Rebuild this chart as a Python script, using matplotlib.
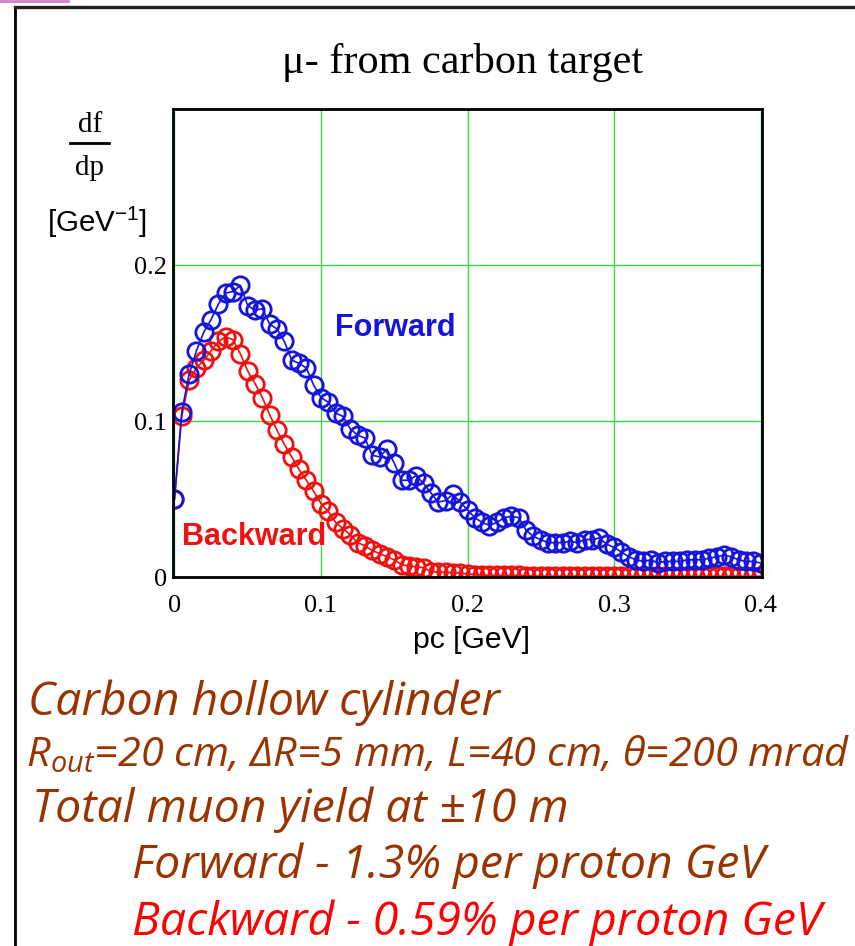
import matplotlib
matplotlib.use("Agg")
import matplotlib.pyplot as plt
from matplotlib.lines import Line2D
import numpy as np

plt.rcParams["mathtext.fontset"] = "custom"
plt.rcParams["mathtext.rm"] = "Liberation Sans"
plt.rcParams["mathtext.it"] = "Open Sans:italic"

# momentum grid [GeV]
p_gev = np.linspace(0.0, 0.4, 81)

# dF/dp for forward-going muons [1/GeV]
forward = [
    0.050, 0.106, 0.130, 0.145, 0.157, 0.165, 0.175, 0.182, 0.183, 0.187,
    0.174, 0.171, 0.172, 0.162, 0.159, 0.151, 0.139, 0.137, 0.134, 0.123,
    0.115, 0.112, 0.105, 0.103, 0.095, 0.091, 0.089, 0.078, 0.077, 0.082,
    0.073, 0.062, 0.062, 0.065, 0.060, 0.054, 0.048, 0.049, 0.053, 0.048,
    0.043, 0.038, 0.035, 0.033, 0.035, 0.038, 0.039, 0.038, 0.030, 0.026,
    0.024, 0.022, 0.022, 0.022, 0.023, 0.022, 0.024, 0.024, 0.025, 0.021,
    0.019, 0.016, 0.013, 0.011, 0.010, 0.011, 0.009, 0.010, 0.010, 0.010,
    0.011, 0.011, 0.011, 0.012, 0.013, 0.014, 0.013, 0.011, 0.010, 0.010,
    0.009,
]

# dF/dp for backward-going muons [1/GeV]
backward = [
    0.050, 0.103, 0.126, 0.134, 0.139, 0.145, 0.151, 0.154, 0.152, 0.143,
    0.132, 0.124, 0.115, 0.104, 0.094, 0.085, 0.077, 0.069, 0.062, 0.055,
    0.047, 0.042, 0.035, 0.031, 0.027, 0.022, 0.020, 0.017, 0.015, 0.013,
    0.011, 0.008, 0.007, 0.0065, 0.006, 0.0035, 0.003, 0.003, 0.0028, 0.0025,
    0.002, 0.0015, 0.0012, 0.001, 0.001, 0.001, 0.001, 0.001, 0.0008, 0.0006,
    0.0005, 0.0005, 0.0005, 0.0005, 0.0005, 0.0005, 0.0005, 0.0005, 0.0005, 0.0005,
    0.0005, 0.0005, 0.0005, 0.0005, 0.0005, 0.0005, 0.0005, 0.0005, 0.0005, 0.0005,
    0.0005, 0.0005, 0.0005, 0.0005, 0.0005, 0.0005, 0.0005, 0.0005, 0.0005, 0.0005,
    0.0005,
]

x_ticks = [0.0, 0.1, 0.2, 0.3, 0.4]
x_tick_labels = ["0", "0.1", "0.2", "0.3", "0.4"]
y_ticks = [0.0, 0.1, 0.2]
y_tick_labels = ["0", "0.1", "0.2"]

W, H = 855, 946
fig = plt.figure(figsize=(W / 100, H / 100), dpi=100)
fig.patch.set_facecolor("white")


def fx(px):
    return px / W


def fy(py):
    return 1 - py / H


renderer = fig.canvas.get_renderer()


def text_width(txt):
    return txt.get_window_extent(renderer).width


def fit_width(txt, target_px):
    for _ in range(3):
        txt.set_fontsize(txt.get_fontsize() * target_px / text_width(txt))
    return txt


# slide frame
fig.add_artist(Line2D([fx(15), fx(15)], [0, fy(7)], color="black", lw=2.0,
                      transform=fig.transFigure))
fig.add_artist(Line2D([fx(15), 1], [fy(7), fy(7)], color="#222222", lw=2.4,
                      transform=fig.transFigure))
fig.add_artist(Line2D([0, fx(68)], [fy(1), fy(1)], color="#d77fc0", lw=2.0,
                      transform=fig.transFigure))

ax = fig.add_axes([fx(173), fy(577), (762 - 173) / W, (577 - 109) / H])
ax.set_xlim(-0.001, 0.401)
ax.set_ylim(0.0, 0.3)

blue = "#1414dc"
red = "#f01010"
ax.plot(p_gev, backward, "-", color=red, lw=1.2, marker="o", ms=12.5,
        mfc="none", mec=red, mew=2.0, zorder=3)
ax.plot(p_gev, forward, "-", color=blue, lw=1.2, marker="o", ms=12.5,
        mfc="none", mec=blue, mew=2.0, zorder=4)

ax.grid(True, color="#44d444", lw=1.0)
ax.set_axisbelow(True)
for s in ax.spines.values():
    s.set_linewidth(2.0)
    s.set_color("black")
    s.set_zorder(5)

ax.set_xticks(x_ticks)
ax.set_xticklabels(x_tick_labels)
ax.set_yticks(y_ticks)
ax.set_yticklabels(y_tick_labels)
ax.tick_params(length=0, labelsize=19)
ax.tick_params(axis="x", pad=13)
ax.tick_params(axis="y", pad=4)
for lab in ax.get_xticklabels() + ax.get_yticklabels():
    lab.set_fontfamily("Liberation Serif")

ax.text(0.1096, 0.1597, "Forward", color=blue, fontsize=22, fontweight="bold",
        family="Liberation Sans", va="center", ha="left", zorder=6)
ax.text(0.0052, 0.0256, "Backward", color=red, fontsize=22, fontweight="bold",
        family="Liberation Sans", va="center", ha="left", zorder=6)

# title and axis labels
t = fig.text(fx(462), fy(73), "\u03bc- from carbon target", family="Liberation Serif",
             fontsize=28, ha="center", va="baseline")
fit_width(t, 360)

fig.text(fx(90), fy(132), "df", family="Liberation Serif", fontsize=21,
         ha="center", va="baseline")
fig.add_artist(Line2D([fx(70), fx(109)], [fy(143), fy(143)], color="black", lw=2.0,
                      transform=fig.transFigure))
fig.text(fx(90), fy(175), "dp", family="Liberation Serif", fontsize=21,
         ha="center", va="baseline")

t = fig.text(fx(47), fy(232), r"[GeV$^{-1}$]", family="Liberation Sans", fontsize=21,
             ha="left", va="baseline")
fit_width(t, 100)

t = fig.text(fx(471), fy(648), "pc [GeV]", family="Liberation Sans", fontsize=21,
             ha="center", va="baseline")
fit_width(t, 117)

# notes below the plot
brown = "#993300"
notes = [
    ("Carbon hollow cylinder", 28, 500, 715, brown),
    ("R$_{\\mathit{out}}$=20 cm, \u0394R=5 mm, L=40 cm, \u03b8=200 mrad", 26, 845, 766, brown),
    ("Total muon yield at \u00b110 m", 32, 565, 822, brown),
    ("Forward - 1.3% per proton GeV", 132, 772, 878, brown),
    ("Backward - 0.59% per proton GeV", 132, 843, 935, "#ff0000"),
]
note_artists = []
for text, x0, x1, base, col in notes:
    t = fig.text(fx(x0), fy(base), text, family="Open Sans", style="italic",
                 fontsize=26, color=col, ha="left", va="baseline")
    fit_width(t, x1 - x0)
    note_artists.append((t, x0))

# one common size for the notes, kept inside the right margin
common = float(np.median([t.get_fontsize() for t, _ in note_artists]))
for t, x0 in note_artists:
    t.set_fontsize(common)
    room = 850 - x0
    if text_width(t) > room:
        fit_width(t, room)

fig.savefig("out.png", dpi=100, facecolor="white")
